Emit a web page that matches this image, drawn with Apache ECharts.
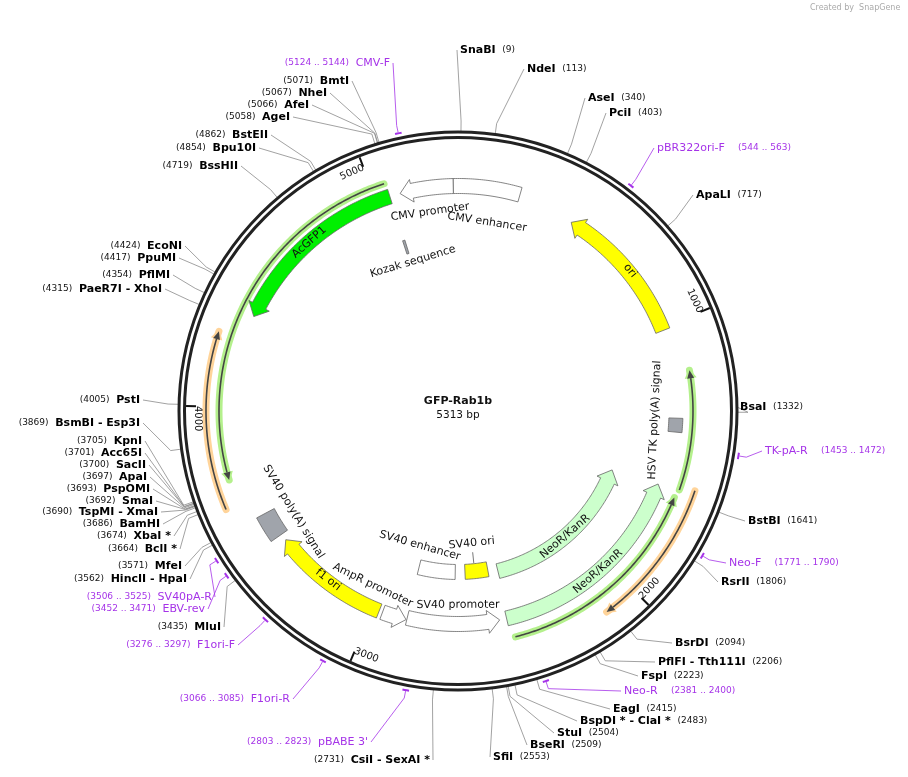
<!DOCTYPE html>
<html><head><meta charset="utf-8">
<script src="https://cdn.jsdelivr.net/npm/echarts@6/dist/echarts.min.js"></script>
<style>html,body{margin:0;padding:0;background:#fff}#c{width:908px;height:777px}</style>
</head><body><div id="c"></div>
<script>
const N = 5313;
const plasmidName = 'GFP-Rab1b';
// features (thick)
const featName = ['CMV enhancer','CMV promoter','AcGFP1','ori','NeoR/KanR','NeoR/KanR','SV40 ori','SV40 enhancer','SV40 promoter','AmpR promoter','f1 ori','SV40 poly(A) signal','HSV TK poly(A) signal','Kozak sequence'];
const featStart = [5295,5093,4351,457,1624,1637,2500,2671,2490,2863,2974,3469,1356,5047];
const featEnd   = [236,5295,5053,1012,2462,2450,2620,2863,2860,2960,3442,3572,1410,5058];
const featDir   = [0,-1,-1,-1,-1,-1,0,0,-1,-1,1,0,0,0];
// thin annotation arcs
const thinStart = [3737,3645,1181,1603,1650];
const thinEnd   = [5047,4257,1618,2118,2446];
const thinDir   = [-1,1,-1,1,-1];
const thinKind  = ['green','orange','green','orange','green'];
// restriction sites
const siteName = ['SnaBI','NdeI','AseI','PciI','ApaLI','BsaI','BstBI','RsrII','BsrDI','PflFI - Tth111I','FspI','EagI','BspDI * - ClaI *','StuI','BseRI','SfiI','CsiI - SexAI *','MluI','HincII - HpaI','MfeI','BclI *','XbaI *','BamHI','TspMI - XmaI','SmaI','PspOMI','ApaI','SacII','Acc65I','KpnI','BsmBI - Esp3I','PstI','PaeR7I - XhoI','PflMI','PpuMI','EcoNI','BssHII','Bpu10I','BstEII','AgeI','AfeI','NheI','BmtI'];
const siteBp = [9,113,340,403,717,1332,1641,1806,2094,2206,2223,2415,2483,2504,2509,2553,2731,3435,3562,3571,3664,3674,3686,3690,3692,3693,3697,3700,3701,3705,3869,4005,4315,4354,4417,4424,4719,4854,4862,5058,5066,5067,5071];
// primers
const primerName = ['CMV-F','pBR322ori-F','TK-pA-R','Neo-F','Neo-R',"pBABE 3'",'F1ori-R','F1ori-F','EBV-rev','SV40pA-R'];
const primerStart = [5124,544,1453,1771,2381,2803,3066,3276,3452,3506];
const primerEnd   = [5144,563,1472,1790,2400,2823,3085,3297,3471,3525];
const tickBp = [1000,2000,3000,4000,5000];
const tickLabel = ['1000','2000','3000','4000','5000'];

// ---- layout / style (not data) ----
const featRing  = [225,225,225,220,213,165,161,161,213,215,215,218,218,172];
const featWidth = [15,15,15,15,15,15,15,15,15,15,15,20,14,14];
const featFill  = ['#fff','#fff','#00f000','#ffff00','#ccffcc','#ccffcc','#ffff00','#fff','#fff','#fff','#ffff00','#a0a4ab','#a0a4ab','#a0a4ab'];
const featLabelR  = [191,201,225,222,213,165,133,140,194,194,213,193,197,156];
const featLabelBp = [129,5195,4702,750,2050,2060,2569,2890,2656,3041,3211,3520,1367,5065];
const thinRing = [239,252,235,250,233];
const siteLabelX = [460,527,588,609,696,740,748,721,675,658,641,613,580,557,530,493,430,221,187,182,177,171,160,158,153,150,147,146,142,142,140,140,162,170,176,182,238,256,268,290,309,327,349];
const siteLabelY = [50,69,98,113,195,407,521,582,643,662,676,709,721,733,745,757,760,627,579,566,549,536,524,512,501,489,477,465,453,441,423,400,289,275,258,246,166,148,135,117,105,93,81];
const siteRightCount = 16;
const primerLabelX = [390,657,765,729,624,368,290,235,205,212];
const primerLabelY = [63,148,451,563,691,742,699,645,609,597];
const primerRight = [false,true,true,true,true,false,false,false,false,false];
const FONT = 'DejaVu Sans';
const PURPLE = '#a533e8';

function norm(b){ return ((b % N) + N) % N; }
function P(api, r, b){ return api.coord([r, norm(b)]); }
function arc(api, r, s, e){
  const pts = []; const n = Math.max(2, Math.ceil(Math.abs(e - s) / 8));
  for (let i = 0; i <= n; i++) pts.push(P(api, r, s + (e - s) * i / n));
  return pts;
}
function bpPerPx(r){ return N / (2 * Math.PI * r); }
function theta(b){ return norm(b) / N * 360; }
function textRot(b){ const t = theta(b); const deg = (t > 90 && t < 270) ? 180 - t : -t; return deg * Math.PI / 180; }

function renderFeatures(params, api){
  const ch = [];
  featName.forEach((nm, i) => {
    let s = featStart[i], e = featEnd[i]; if (e < s) e += N;
    const r = featRing[i], w = featWidth[i] / 2, d = featDir[i];
    const hb = 12 * bpPerPx(r);
    let pts;
    if (d === 0) {
      pts = arc(api, r + w, s, e).concat(arc(api, r - w, e, s));
    } else if (d === -1) {
      pts = arc(api, r + w, e, s + hb).concat([P(api, r + w + 4, s + hb), P(api, r, s), P(api, r - w - 4, s + hb)], arc(api, r - w, s + hb, e));
    } else {
      pts = arc(api, r + w, s, e - hb).concat([P(api, r + w + 4, e - hb), P(api, r, e), P(api, r - w - 4, e - hb)], arc(api, r - w, e - hb, s));
    }
    ch.push({type:'polygon', shape:{points:pts}, style:{fill:featFill[i], stroke:'#666', lineWidth:0.8}});
  });
  featName.forEach((nm, i) => {
    const p = P(api, featLabelR[i], featLabelBp[i]);
    ch.push({type:'text', x:p[0], y:p[1], rotation:textRot(featLabelBp[i]), style:{text:nm, x:0, y:0, align:'center', verticalAlign:'middle', font:'11px ' + FONT, fill:'#111'}});
  });
  // SV40 ori leader
  const a = P(api, 142, 2569), b = P(api, 153, 2569);
  ch.push({type:'line', shape:{x1:a[0], y1:a[1], x2:b[0], y2:b[1]}, style:{stroke:'#555', lineWidth:0.8}});
  return {type:'group', children:ch};
}

function renderThin(params, api){
  const ch = [];
  thinStart.forEach((s0, i) => {
    let s = s0, e = thinEnd[i]; if (e < s) e += N;
    const r = thinRing[i], d = thinDir[i];
    const halo = thinKind[i] === 'green' ? '#b4f08c' : '#ffd49a';
    const hb = 8 * bpPerPx(r);
    const head = d === 1 ? e : s, base = d === 1 ? e - hb : s + hb;
    const line = d === 1 ? arc(api, r, s, base) : arc(api, r, base, e);
    const full = arc(api, r, s, e);
    ch.push({type:'polyline', shape:{points:full}, style:{stroke:halo, lineWidth:7, fill:null, lineCap:'round'}});
    ch.push({type:'polygon', shape:{points:[P(api, r + 6, base), P(api, r, head + (d===1?2:-2)*bpPerPx(r)), P(api, r - 6, base)]}, style:{fill:halo}});
    ch.push({type:'polyline', shape:{points:line}, style:{stroke:'#444', lineWidth:1.6, fill:null}});
    ch.push({type:'polygon', shape:{points:[P(api, r + 3.5, base), P(api, r, head), P(api, r - 3.5, base)]}, style:{fill:'#444'}});
  });
  return {type:'group', children:ch};
}

function renderBackbone(params, api){
  const c = api.coord([0, 0]);
  const ch = [
    {type:'circle', shape:{cx:c[0], cy:c[1], r:279}, style:{fill:null, stroke:'#222', lineWidth:3}},
    {type:'circle', shape:{cx:c[0], cy:c[1], r:273.5}, style:{fill:null, stroke:'#222', lineWidth:3}}
  ];
  tickBp.forEach((b, i) => {
    const a = P(api, 272, b), q = P(api, 262, b);
    ch.push({type:'line', shape:{x1:a[0], y1:a[1], x2:q[0], y2:q[1]}, style:{stroke:'#111', lineWidth:2}});
    const lp = P(api, 261, b - 40);
    let rot = textRot(b - 40); if (b === 4000) rot = -Math.PI / 2;
    ch.push({type:'text', x:lp[0], y:lp[1], rotation:rot, style:{text:tickLabel[i], x:0, y:0, align:'center', verticalAlign:'middle', font:'10px ' + FONT, fill:'#111'}});
  });
  ch.push({type:'text', x:c[0], y:c[1] - 10, style:{text:plasmidName, align:'center', verticalAlign:'middle', font:'bold 11px ' + FONT, fill:'#111'}});
  ch.push({type:'text', x:c[0], y:c[1] + 4, style:{text:N + ' bp', align:'center', verticalAlign:'middle', font:'10.5px ' + FONT, fill:'#111'}});
  return {type:'group', children:ch};
}

function leader(api, b, lx, ly, right, color){
  const a = P(api, 280, b), m = P(api, 290, b);
  const ex = right ? lx - 3 : lx + 3;
  return [{type:'polyline', shape:{points:[a, m, [ex, ly]]}, style:{stroke:color, lineWidth:0.8, fill:null}}];
}

function renderSites(params, api){
  const ch = [];
  siteName.forEach((nm, i) => {
    const right = i < siteRightCount;
    const lx = siteLabelX[i], ly = siteLabelY[i];
    ch.push(...leader(api, siteBp[i], lx, ly, right, '#8a8a8a'));
    const txt = right ? `{b|${nm}}  {n|(${siteBp[i]})}` : `{n|(${siteBp[i]})}  {b|${nm}}`;
    ch.push({type:'text', x:lx, y:ly, style:{text:txt, align:right ? 'left' : 'right', verticalAlign:'middle',
      rich:{b:{font:'bold 11px ' + FONT, fill:'#000'}, n:{font:'9px ' + FONT, fill:'#111'}}}});
  });
  primerName.forEach((nm, i) => {
    const right = primerRight[i];
    const mid = (primerStart[i] + primerEnd[i]) / 2;
    const lx = primerLabelX[i], ly = primerLabelY[i];
    ch.push({type:'polyline', shape:{points:arc(api, 284, primerStart[i], primerEnd[i])}, style:{stroke:PURPLE, lineWidth:2, fill:null}});
    const a = P(api, 285, mid), m = P(api, 292, mid);
    ch.push({type:'polyline', shape:{points:[a, m, [right ? lx - 3 : lx + 3, ly]]}, style:{stroke:PURPLE, lineWidth:0.8, fill:null}});
    const rng = `(${primerStart[i]} .. ${primerEnd[i]})`;
    const txt = right ? `{p|${nm}}    {n|${rng}}` : `{n|${rng}}  {p|${nm}}`;
    ch.push({type:'text', x:lx, y:ly, style:{text:txt, align:right ? 'left' : 'right', verticalAlign:'middle',
      rich:{p:{font:'11px ' + FONT, fill:PURPLE}, n:{font:'9px ' + FONT, fill:PURPLE}}}});
  });
  return {type:'group', children:ch};
}

const chart = echarts.init(document.getElementById('c'));
chart.setOption({
  animation:false,
  polar:{center:[458, 411], radius:300},
  angleAxis:{type:'value', min:0, max:N, startAngle:90, clockwise:true, show:false, splitLine:{show:false}},
  radiusAxis:{type:'value', min:0, max:300, show:false, splitLine:{show:false}},
  graphic:[{type:'text', left:810, top:4, style:{text:'Created by  SnapGene', font:'8px ' + FONT, fill:'#aaa'}}],
  series:[
    {type:'custom', coordinateSystem:'polar', data:[[0,0]], renderItem:renderSites, silent:true},
    {type:'custom', coordinateSystem:'polar', data:[[0,0]], renderItem:renderBackbone, silent:true},
    {type:'custom', coordinateSystem:'polar', data:[[0,0]], renderItem:renderThin, silent:true},
    {type:'custom', coordinateSystem:'polar', data:[[0,0]], renderItem:renderFeatures, silent:true}
  ]
});
</script></body></html>
